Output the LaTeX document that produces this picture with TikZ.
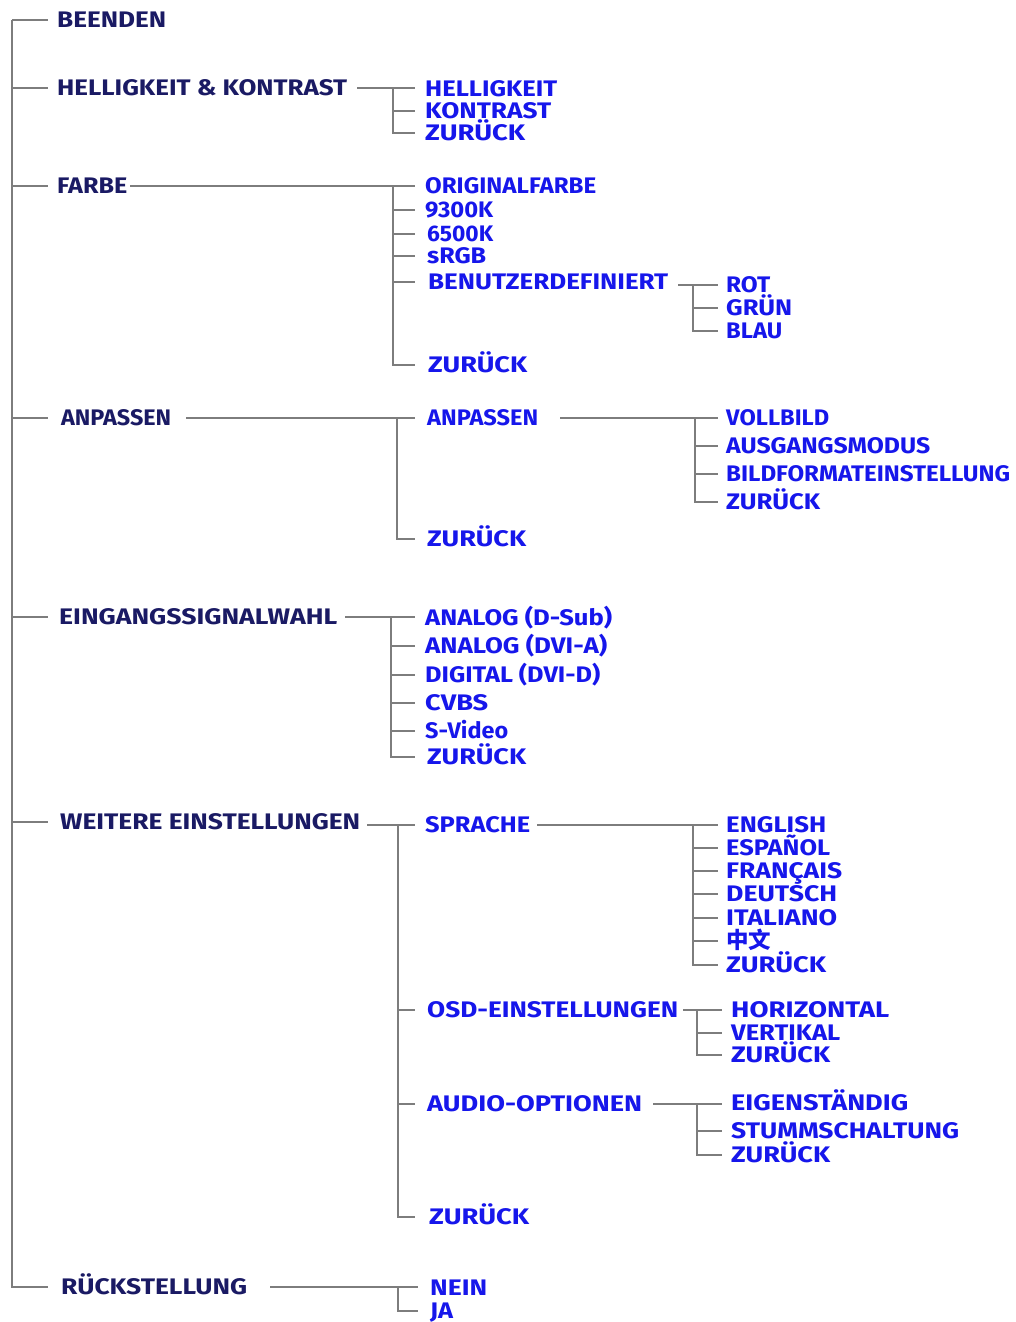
\documentclass[tikz,border=0pt]{standalone}
\usepackage{fontspec}
\usepackage{graphicx}
\setmainfont{Fira Sans}
\newfontfamily\cjk{Noto Sans CJK SC}
\definecolor{navy}{RGB}{26,26,100}
\definecolor{subblue}{RGB}{22,22,235}
\definecolor{treegray}{RGB}{125,125,125}
\newcommand\fitto[2]{\setbox0=\hbox{#2}\pgfmathsetmacro\fitsc{#1/\the\wd0}\scalebox{\fitsc}[1]{\box0}}
\begin{document}
\begin{tikzpicture}[x=1pt,y=-1pt,
  itembase/.style={anchor=west,inner sep=0pt,text height=15.5pt,text depth=0pt,
    font=\fontsize{22.5}{26}\selectfont\bfseries},
  mainitem/.style={itembase,text=navy},
  subitem/.style={itembase,text=subblue},
  tree/.style={draw=treegray,line width=1.4pt}]
\useasboundingbox[fill=white] (0,0) rectangle (1015,1322);

% ---------- main items ----------
\node[mainitem] (beenden) at (57,20)  {\fitto{109}{BEENDEN}};
\node[mainitem] (hk)      at (57,88)  {\fitto{290}{HELLIGKEIT \& KONTRAST}};
\node[mainitem] (farbe)   at (57,186) {\fitto{70}{FARBE}};
\node[mainitem] (anp)     at (61,418) {\fitto{110}{ANPASSEN}};
\node[mainitem] (ein)     at (59,617) {\fitto{278}{EINGANGSSIGNALWAHL}};
\node[mainitem] (wei)     at (60,822) {\fitto{300}{WEITERE EINSTELLUNGEN}};
\node[mainitem] (rue)     at (61,1287){\fitto{186}{RÜCKSTELLUNG}};

% ---------- HELLIGKEIT & KONTRAST ----------
\node[subitem] (hk1) at (425,89)  {\fitto{132}{HELLIGKEIT}};
\node[subitem] (hk2) at (425,111) {\fitto{126}{KONTRAST}};
\node[subitem] (hk3) at (425,133) {\fitto{100}{ZURÜCK}};

% ---------- FARBE ----------
\node[subitem] (fa1) at (425,186) {\fitto{171}{ORIGINALFARBE}};
\node[subitem] (fa2) at (425,210) {\fitto{68}{9300K}};
\node[subitem] (fa3) at (427,234) {\fitto{66}{6500K}};
\node[subitem] (fa4) at (427,256) {\fitto{59}{sRGB}};
\node[subitem] (fa5) at (428,282) {\fitto{240}{BENUTZERDEFINIERT}};
\node[subitem] (fa6) at (428,365) {\fitto{99}{ZURÜCK}};
\node[subitem] (bd1) at (726,285) {\fitto{44}{ROT}};
\node[subitem] (bd2) at (726,308) {\fitto{66}{GRÜN}};
\node[subitem] (bd3) at (726,331) {\fitto{56}{BLAU}};

% ---------- ANPASSEN ----------
\node[subitem] (an1) at (427,418) {\fitto{111}{ANPASSEN}};
\node[subitem] (an2) at (427,539) {\fitto{99}{ZURÜCK}};
\node[subitem] (ap1) at (726,418) {\fitto{103}{VOLLBILD}};
\node[subitem] (ap2) at (726,446) {\fitto{204}{AUSGANGSMODUS}};
\node[subitem] (ap3) at (726,474) {\fitto{284}{BILDFORMATEINSTELLUNG}};
\node[subitem] (ap4) at (726,502) {\fitto{94}{ZURÜCK}};

% ---------- EINGANGSSIGNALWAHL ----------
\node[subitem] (ei1) at (425,618) {\fitto{187}{ANALOG (D-Sub)}};
\node[subitem] (ei2) at (425,646) {\fitto{182}{ANALOG (DVI-A)}};
\node[subitem] (ei3) at (425,675) {\fitto{175}{DIGITAL (DVI-D)}};
\node[subitem] (ei4) at (425,703) {\fitto{63}{CVBS}};
\node[subitem] (ei5) at (425,731) {\fitto{83}{S-Video}};
\node[subitem] (ei6) at (427,757) {\fitto{99}{ZURÜCK}};

% ---------- WEITERE EINSTELLUNGEN ----------
\node[subitem] (we1) at (425,825)  {\fitto{105}{SPRACHE}};
\node[subitem] (we2) at (427,1010) {\fitto{251}{OSD-EINSTELLUNGEN}};
\node[subitem] (we3) at (427,1104) {\fitto{215}{AUDIO-OPTIONEN}};
\node[subitem] (we4) at (429,1217) {\fitto{100}{ZURÜCK}};
\node[subitem] (sp1) at (726,825) {\fitto{100}{ENGLISH}};
\node[subitem] (sp2) at (726,848) {\fitto{104}{ESPAÑOL}};
\node[subitem] (sp3) at (726,871) {\fitto{116}{FRANÇAIS}};
\node[subitem] (sp4) at (726,894) {\fitto{111}{DEUTSCH}};
\node[subitem] (sp5) at (726,918) {\fitto{111}{ITALIANO}};
\node[subitem] (sp6) at (726,941) {\fitto{45}{\cjk 中文}};
\node[subitem] (sp7) at (726,965) {\fitto{100}{ZURÜCK}};
\node[subitem] (os1) at (731,1010) {\fitto{158}{HORIZONTAL}};
\node[subitem] (os2) at (731,1033) {\fitto{109}{VERTIKAL}};
\node[subitem] (os3) at (731,1055) {\fitto{99}{ZURÜCK}};
\node[subitem] (au1) at (731,1103) {\fitto{177}{EIGENSTÄNDIG}};
\node[subitem] (au2) at (731,1131) {\fitto{228}{STUMMSCHALTUNG}};
\node[subitem] (au3) at (731,1155) {\fitto{99}{ZURÜCK}};

% ---------- RÜCKSTELLUNG ----------
\node[subitem] (ru1) at (430,1288) {\fitto{57}{NEIN}};
\node[subitem] (ru2) at (430,1311) {\fitto{23}{JA}};

% ---------- connectors ----------
% trunk
\coordinate (trunk) at (12,20);
\coordinate (trunkend) at (48,0);
\draw[tree] (trunk) |- (trunkend |- rue.west);
\foreach \n in {beenden,hk,farbe,anp,ein,wei}
  \draw[tree] (trunk |- \n.west) -- (trunkend |- \n.west);

% HELLIGKEIT & KONTRAST
\coordinate (g1v) at (393,0); \coordinate (g1e) at (415,0);
\draw[tree] ([xshift=10pt]hk.east) -- (g1e |- hk.east);
\draw[tree] (g1v |- hk.east) |- (g1e |- hk3.west);
\draw[tree] (g1v |- hk2.west) -- (g1e |- hk2.west);

% FARBE
\draw[tree] ([xshift=3pt]farbe.east) -- (g1e |- farbe.east);
\draw[tree] (g1v |- farbe.east) |- (g1e |- fa6.west);
\foreach \n in {fa2,fa3,fa4,fa5}
  \draw[tree] (g1v |- \n.west) -- (g1e |- \n.west);
\coordinate (g2v) at (693,0); \coordinate (g2e) at (718,0);
\draw[tree] ([xshift=10pt]fa5.east |- bd1.west) -- (g2e |- bd1.west);
\draw[tree] (g2v |- bd1.west) |- (g2e |- bd3.west);
\draw[tree] (g2v |- bd2.west) -- (g2e |- bd2.west);

% ANPASSEN
\coordinate (g3v) at (397,0);
\draw[tree] ([xshift=15pt]anp.east) -- (g1e |- anp.east);
\draw[tree] (g3v |- anp.east) |- (g1e |- an2.west);
\coordinate (g4v) at (695,0);
\draw[tree] ([xshift=22pt]an1.east) -- (g2e |- an1.east);
\draw[tree] (g4v |- an1.east) |- (g2e |- ap4.west);
\foreach \n in {ap2,ap3}
  \draw[tree] (g4v |- \n.west) -- (g2e |- \n.west);

% EINGANGSSIGNALWAHL
\coordinate (g5v) at (391,0);
\draw[tree] ([xshift=8pt]ein.east) -- (g1e |- ein.east);
\draw[tree] (g5v |- ein.east) |- (g1e |- ei6.west);
\foreach \n in {ei2,ei3,ei4,ei5}
  \draw[tree] (g5v |- \n.west) -- (g1e |- \n.west);

% WEITERE EINSTELLUNGEN
\coordinate (g6v) at (398,0);
\draw[tree] ([xshift=7pt]wei.east |- we1.west) -- (g1e |- we1.west);
\draw[tree] (g6v |- we1.west) |- (g1e |- we4.west);
\foreach \n in {we2,we3}
  \draw[tree] (g6v |- \n.west) -- (g1e |- \n.west);
\draw[tree] ([xshift=7pt]we1.east) -- (g2e |- we1.east);
\draw[tree] (g2v |- we1.east) |- (g2e |- sp7.west);
\foreach \n in {sp2,sp3,sp4,sp5,sp6}
  \draw[tree] (g2v |- \n.west) -- (g2e |- \n.west);
\coordinate (g7v) at (697,0); \coordinate (g7e) at (722,0);
\draw[tree] ([xshift=5pt]we2.east) -- (g7e |- we2.east);
\draw[tree] (g7v |- we2.east) |- (g7e |- os3.west);
\draw[tree] (g7v |- os2.west) -- (g7e |- os2.west);
\draw[tree] ([xshift=11pt]we3.east) -- (g7e |- we3.east);
\draw[tree] (g7v |- we3.east) |- (g7e |- au3.west);
\draw[tree] (g7v |- au2.west) -- (g7e |- au2.west);

% RÜCKSTELLUNG
\coordinate (g8e) at (418,0);
\draw[tree] ([xshift=23pt]rue.east) -- (g8e |- rue.east);
\draw[tree] (g6v |- rue.east) |- (g8e |- ru2.west);
\end{tikzpicture}
\end{document}
